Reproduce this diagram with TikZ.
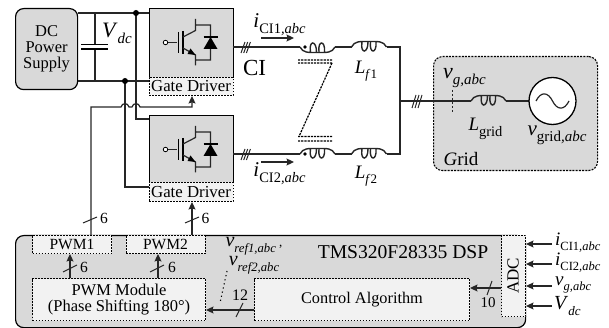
\documentclass[tikz,border=0pt]{standalone}
\usepackage{fontspec}
\setmainfont{Liberation Serif}
\usetikzlibrary{arrows.meta}
\newcommand{\fs}[1]{\fontsize{#1}{#1}\selectfont}
\newcommand{\lab}[4]{\fs{#1}\textit{#2}\raisebox{-.28em}{\fs{#3}#4}}
\newcommand{\ab}{\textit{,abc}}
\newcommand{\coil}[3]{% x, y, yscale
 \draw[wire,line width=1.4pt,shift={(#1,#2)},yscale=#3] (0,0) .. controls (3,-6) and (8,-5.5) .. (17.5,-5.5) .. controls (27,-5.5) and (32,-6) .. (35,0)
  (10.5,-5) .. controls (8.5,7) and (16.5,7) .. (16.5,-5)
  (19,-5) .. controls (17.5,7) and (25.5,7) .. (24.5,-5);}
\newcommand{\igbt}[2]{%
 \begin{scope}[shift={(#1,#2)}]
 \draw[wire] (16.5,34.5) -- (27,34.5);
 \node[draw,circle,fill=white,inner sep=0pt,minimum size=4.5pt,line width=.8pt] at (15.5,34.5) {};
 \draw[line width=1.4pt] (28.5,24) -- (28.5,45) (33,23) -- (33,46);
 \draw[wire] (33,29) -- (45.5,22.5) -- (45.5,11) (33,40) -- (45.5,47) -- (45.5,57.5)
   (45.5,17) -- (60.5,17) -- (60.5,52) -- (45.5,52);
 \fill (45.5,47) -- (37.5,46) -- (40.5,40.5) -- cycle;
 \fill (60.5,29) -- (53.5,41) -- (67.5,41) -- cycle;
 \draw[line width=1.3pt] (53.5,29) -- (67.5,29);
 \end{scope}}
\tikzset{
 wire/.style={line width=1.2pt,black!85},
 pow/.style={line width=1.3pt,black!85},
 arr/.style={wire,-{Stealth[length=7.5pt,width=7pt,inset=1.2pt]}},
 gbox/.style={draw,line width=1.2pt,fill=black!15,inner sep=0pt,anchor=north west},
 dbox/.style={draw,dashed,dash pattern=on 1.8pt off 1.2pt,line width=1pt,fill=black!5,inner sep=0pt,anchor=north west,align=center},
 tick/.style={line width=1pt,black!85},
 txt/.style={inner sep=0pt,align=center},
 cpl/.style={line width=1.2pt,dash pattern=on 2.2pt off 1pt}
}
\begin{document}
\begin{tikzpicture}[x=1pt,y=-1pt]
\useasboundingbox (0,0) rectangle (609,328);
% DSP
\node[gbox,rounded corners=8pt,minimum width=510pt,minimum height=92pt] (dsp) at (15,235) {};
\node[dbox,minimum width=79pt,minimum height=18pt] (pwma) at (32,235) {\fs{15.5}PWM1};
\node[dbox,minimum width=79pt,minimum height=18pt] (pwmb) at (125.5,235) {\fs{15.5}PWM2};
\node[dbox,minimum width=173pt,minimum height=42pt] (mod) at (32,278) {\fs{16.5}PWM Module\\[4.5pt]\fs{16.5}(Phase Shifting 180°)};
\node[dbox,minimum width=215pt,minimum height=42pt] (ctrl) at (254,278) {\fs{16.3}Control Algorithm};
\node[dbox,minimum width=24pt,minimum height=81pt] (adc) at (501,235) {};
\node[txt,rotate=90] at (513,276) {\fs{17}ADC};
\node[txt] at (403,252) {\fs{19.6}TMS320F28335 DSP};
% top boxes
\node[gbox,rounded corners=8pt,minimum width=62pt,minimum height=81pt,align=center] (dc) at (15,8) {\fs{16.5}DC\\[4pt]\fs{16.5}Power\\[4pt]\fs{16.5}Supply};
\node[gbox,minimum width=84pt,minimum height=69pt] (sw1) at (148.5,8) {};
\node[dbox,minimum width=84pt,minimum height=18pt] (gd1) at (148.5,77) {\fs{16.8}Gate Driver};
\node[gbox,minimum width=84pt,minimum height=67pt] (sw2) at (148.5,115) {};
\node[dbox,minimum width=84pt,minimum height=19pt] (gd2) at (148.5,182) {\fs{16.8}Gate Driver};
\igbt{150}{8}
\igbt{150}{115}
% grid box
\node[draw,dashed,dash pattern=on 2pt off 1.2pt,line width=1.1pt,fill=black!15,rounded corners=9pt,inner sep=0pt,anchor=north west,minimum width=164pt,minimum height=114pt] (grid) at (433,56) {};
% DC wiring
\coordinate (jt) at (136,13);
\coordinate (jb) at (125,81);
\coordinate (ct) at (95,44.5);
\coordinate (cb) at (95,49);
\draw[pow] (dc.east |- jt) -- (jt) -- (sw1.west |- jt);
\draw[pow] (dc.east |- jb) -- (jb) -- (sw1.west |- jb);
\draw[pow] (95,13) -- (ct) (cb) -- (95,81);
\draw[line width=1.6pt] (81,44.5) -- (108,44.5) (81,49) -- (108,49);
\draw[pow] (jt) -- (136,119) -- (sw2.west |- 0,119);
\draw[pow] (jb) -- (125,187) -- (gd2.west |- 0,187);
\fill (jt) circle (3pt) (jb) circle (3pt);
\node[txt] at (117,33) {\lab{22}{V}{15}{\textit{dc}}};
% gate signals
\draw[arr] (91,0 |- pwma.north) -- (91,107) -- (121,107) .. controls (122,102.5) and (128,102.5) .. (129,107) -- (132,107) .. controls (133,102.5) and (139,102.5) .. (140,107) -- (192,107) -- (192,0 |- gd1.south);
\draw[arr] (192,0 |- pwmb.north) -- (192,0 |- gd2.south);
\draw[tick] (83,223) -- (97,217) (185,223) -- (199,217);
\node[txt] at (104,218.5) {\fs{15.5}6};
\node[txt] at (205.5,218.5) {\fs{15.5}6};
% outputs
\draw[pow] (232.5,47) -- (300,47) (335,47) -- (351.5,47) (386.5,47) -- (400,47) -- (400,154) -- (386.5,154) (351.5,154) -- (335,154) (300,154) -- (232.5,154);
\draw[pow] (400,101) -- (471,101) (506,101) -- (529,101);
\coil{300}{47}{-1}
\coil{351.5}{47}{1}
\coil{300}{154}{1}
\coil{351.5}{154}{1}
\coil{471}{101}{1}
\fill (305,47) circle (1.8pt) (305,154) circle (1.8pt);
\draw[tick] (241,53) -- (245,42) (243.7,53) -- (247.7,42) (246.4,53) -- (250.4,42);
\draw[tick] (241,160) -- (245,149) (243.7,160) -- (247.7,149) (246.4,160) -- (250.4,149);
\draw[tick] (412,108) -- (416,95) (415,108) -- (419,95) (418,108) -- (422,95);
\draw[arr] (261,38) -- (294,38);
\draw[arr] (261,162) -- (294,162);
\node[txt] at (279.5,25) {\lab{21}{i}{14.5}{CI1\ab}};
\node[txt] at (279.5,174) {\lab{21}{i}{14.5}{CI2\ab}};
\node[txt] at (254.5,68) {\fs{23}CI};
\node[txt] at (366,71) {\lab{19}{L}{13}{\textit{f}1}};
\node[txt] at (366,176) {\lab{19}{L}{13}{\textit{f}2}};
% coupling
\draw[cpl] (298,60) -- (333,60) (298,63) -- (333,63) (298,136.5) -- (333,136.5) (298,141) -- (333,141) (332,63) -- (299,136.5);
% grid content
\draw[tick,dash pattern=on 2.5pt off 1.5pt] (452,90) -- (452,113);
\node[draw,circle,line width=1.3pt,fill=white,inner sep=0pt,minimum size=47pt] (src) at (552.5,101) {};
\draw[line width=1.2pt,black!85] (536,101) .. controls (541,91) and (548,92) .. (552.5,101) .. controls (557,110) and (564,111) .. (569,101);
\node[txt] at (464.5,78) {\lab{22}{v}{15}{\textit{g,abc}}};
\node[txt] at (485.5,129) {\lab{19}{L}{14.5}{grid}};
\node[txt] at (557,135) {\lab{21}{v}{15}{grid\ab}};
\node[txt] at (461,159) {\fs{19}\textit{G}rid};
% DSP wiring
\draw[arr] (70,0 |- mod.north) -- (70,0 |- pwma.south);
\draw[arr] (158,0 |- mod.north) -- (158,0 |- pwmb.south);
\draw[tick] (63,272) -- (77,265) (150,272) -- (164,265);
\node[txt] at (84,267) {\fs{15.5}6};
\node[txt] at (172,267) {\fs{15.5}6};
\draw[arr] (ctrl.west |- 0,310) -- (mod.east |- 0,310);
\draw[tick] (236,317) -- (243,303);
\node[txt] at (240,295) {\fs{16}12};
\draw[arr] (adc.west |- 0,288) -- (ctrl.east |- 0,288);
\draw[tick] (487,295) -- (492,281);
\node[txt] at (488,303) {\fs{15}10};
\draw[line width=1.1pt,dash pattern=on 1.2pt off 3pt] (227,271) -- (220,303);
\node[txt] at (254,246) {\lab{20}{v}{12.7}{\textit{ref1,abc}}\,\fs{13},};
\node[txt] at (254,265) {\lab{20}{v}{12.7}{\textit{ref2,abc}}};
% ADC inputs
\coordinate (ia) at (552,244);
\coordinate (ib) at (552,264);
\coordinate (ic) at (552,286);
\coordinate (id) at (552,306);
\foreach \c in {ia,ib,ic,id} \draw[arr] (\c) -- (adc.east |- \c);
\node[txt,anchor=west] at (555,243) {\lab{19}{i}{12.5}{CI1\ab}};
\node[txt,anchor=west] at (555,263) {\lab{19}{i}{12.5}{CI2\ab}};
\node[txt,anchor=west] at (555,285) {\lab{19}{v}{12.5}{\textit{g,abc}}};
\node[txt,anchor=west] at (554,306) {\lab{20}{V}{13}{\textit{dc}}};
\end{tikzpicture}
\end{document}
